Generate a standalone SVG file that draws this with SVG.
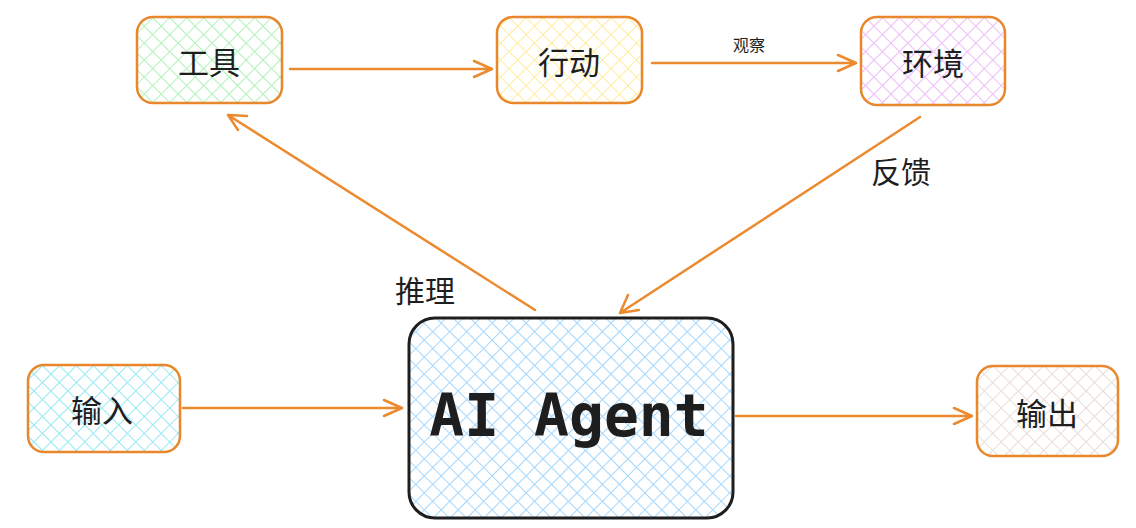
<svg xmlns="http://www.w3.org/2000/svg" width="1136" height="528" viewBox="0 0 1136 528">
<style>
.n{stroke:#e8872b;stroke-width:2.5}
.t{font-family:"Noto Sans CJK SC","Noto Sans",sans-serif;font-size:31px;fill:#1e1e1e;text-anchor:middle;dominant-baseline:central}
.c{fill:none;stroke:#ec8a2f;stroke-width:2.5;stroke-linecap:round;stroke-linejoin:round}
.l{font-family:"Noto Sans CJK SC",sans-serif;fill:#1e1e1e;text-anchor:middle}
</style>
<defs>
<pattern id="pg" width="12" height="12" patternUnits="userSpaceOnUse" patternTransform="rotate(45)"><rect width="12" height="12" fill="#fff"/><path d="M0 0V12M0 0H12" stroke="#b2f2bb" stroke-width="2"/></pattern>
<pattern id="py" width="12" height="12" patternUnits="userSpaceOnUse" patternTransform="rotate(45)"><rect width="12" height="12" fill="#fff"/><path d="M0 0V12M0 0H12" stroke="#ffec99" stroke-width="2"/></pattern>
<pattern id="pp" width="12" height="12" patternUnits="userSpaceOnUse" patternTransform="rotate(45)"><rect width="12" height="12" fill="#fff"/><path d="M0 0V12M0 0H12" stroke="#eebefa" stroke-width="2"/></pattern>
<pattern id="pc" width="12" height="12" patternUnits="userSpaceOnUse" patternTransform="rotate(45)"><rect width="12" height="12" fill="#fff"/><path d="M0 0V12M0 0H12" stroke="#99e9f2" stroke-width="2"/></pattern>
<pattern id="pb" width="12" height="12" patternUnits="userSpaceOnUse" patternTransform="rotate(45)"><rect width="12" height="12" fill="#fff"/><path d="M0 0V12M0 0H12" stroke="#a5d8ff" stroke-width="2"/></pattern>
<pattern id="pe" width="12" height="12" patternUnits="userSpaceOnUse" patternTransform="rotate(45)"><rect width="12" height="12" fill="#fff"/><path d="M0 0V12M0 0H12" stroke="#eaddd7" stroke-width="2"/></pattern>
</defs>
<g id="connectors">
<path class="c" d="M290 69H492M474 61L492 69L474 77"/>
<path class="c" d="M652 63H856M838 55L856 63L838 71"/>
<text class="l" x="749" y="51" font-size="16">观察</text>
<path class="c" d="M920 117L620 313M628 295L620 313L639 310"/>
<text class="l" x="901" y="183" font-size="30">反馈</text>
<path class="c" d="M535 310L228 115M238 130L228 115L247 116"/>
<text class="l" x="425" y="302" font-size="30">推理</text>
<path class="c" d="M183 408H402M384 400L402 408L384 416"/>
<path class="c" d="M736 416H972M954 408L972 416L954 424"/>
</g>
<g id="tools"><rect class="n" x="137" y="17" width="145" height="86" rx="16" fill="url(#pg)"/><text class="t" x="209" y="60">工具</text></g>
<g id="action"><rect class="n" x="497" y="17" width="145" height="86" rx="16" fill="url(#py)"/><text class="t" x="569" y="60">行动</text></g>
<g id="env"><rect class="n" x="861" y="17" width="144" height="88" rx="16" fill="url(#pp)"/><text class="t" x="933" y="61">环境</text></g>
<g id="input"><rect class="n" x="28" y="365" width="152" height="87" rx="16" fill="url(#pc)"/><text class="t" x="102" y="408">输入</text></g>
<g id="agent"><rect x="409" y="318" width="324" height="200" rx="26" fill="url(#pb)" stroke="#1e1e1e" stroke-width="3"/><text x="569" y="416" font-family="'DejaVu Sans Mono',monospace" font-size="58" font-weight="bold" fill="#1e1e1e" text-anchor="middle" dominant-baseline="central">AI Agent</text></g>
<g id="output"><rect class="n" x="977" y="366" width="141" height="90" rx="16" fill="url(#pe)"/><text class="t" x="1047" y="411">输出</text></g>
</svg>
